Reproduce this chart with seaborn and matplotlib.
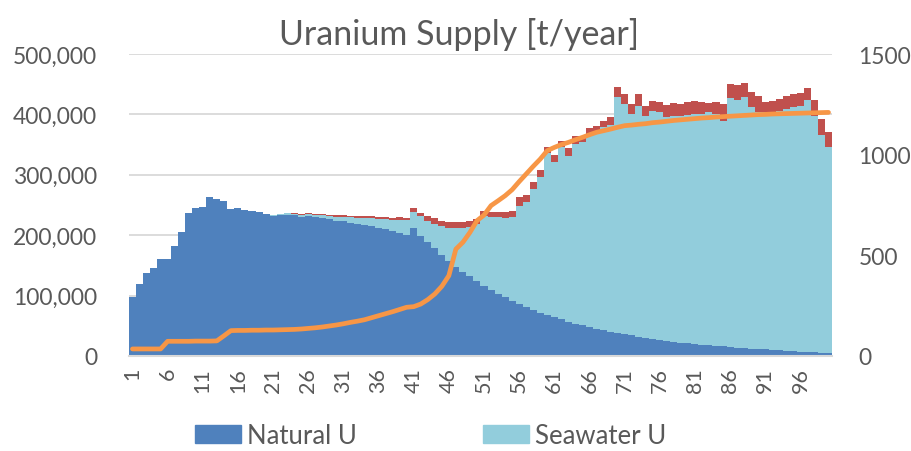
import numpy as np
import pandas as pd
import matplotlib.pyplot as plt
import seaborn as sns
from matplotlib.patches import Patch
from matplotlib.ticker import FuncFormatter

# values
years = list(range(1, 101))

natural_u = [
    97000, 118500, 138000, 145000, 160000, 161000, 181500, 205000, 237000, 245000,
    246000, 264000, 260000, 256500, 243000, 245000, 242500, 240000, 238000, 235000,
    232500, 233500, 234000, 233000, 230500, 232000, 230000, 228000, 226500, 224000,
    223000, 221000, 219000, 217000, 215000, 212500, 210000, 207000, 203000, 200000,
    212000, 199000, 189000, 178000, 167000, 158000, 148000, 139500, 132000, 124000,
    116000, 110000, 103000, 97000, 91000, 86000, 81000, 76500, 72000, 67500,
    64000, 60500, 57000, 53500, 50500, 47500, 45000, 42500, 40000, 38000,
    36000, 34000, 32000, 30000, 28000, 26000, 24500, 23000, 22000, 21000,
    20000, 19000, 18000, 17000, 16000, 15000, 14000, 13000, 12200, 11500,
    10800, 10000, 9300, 8600, 8000, 7400, 6800, 6200, 5600, 5000,
]

seawater_u = [
    0, 0, 0, 0, 0, 0, 0, 0, 0, 0,
    0, 0, 0, 0, 0, 0, 0, 0, 0, 500,
    1000, 1500, 2000, 2500, 3000, 3000, 3800, 5200, 5500, 6800,
    7600, 8900, 10200, 11500, 12800, 14600, 16400, 18200, 22500, 24600,
    27000, 32000, 35000, 40500, 48700, 54000, 63400, 72500, 82000, 94500,
    116300, 119600, 126600, 131000, 139700, 162900, 173400, 200500, 223800, 268500,
    256600, 285000, 273600, 297500, 303300, 320000, 327000, 336100, 343000, 390300,
    381200, 366700, 382400, 367800, 378100, 377500, 371700, 374900, 375900, 378500,
    380700, 381700, 385500, 383700, 373600, 411600, 410400, 416300, 400500, 392000,
    392700, 394500, 396800, 400300, 403700, 407000, 417600, 391700, 360300, 340500,
]

# third stacked series (red), not shown in the legend
other_u = [
    0, 0, 0, 0, 0, 0, 0, 0, 0, 0,
    0, 0, 0, 0, 0, 0, 0, 0, 0, 300,
    500, 800, 1000, 1200, 1500, 1500, 1700, 1800, 2000, 2200,
    2400, 2600, 2800, 3000, 3200, 3400, 3600, 3800, 4000, 4400,
    5500, 5700, 8000, 9500, 8300, 10400, 9900, 9300, 9000, 8300,
    8300, 8300, 8300, 9900, 9900, 13800, 11600, 11600, 11700, 9500,
    12200, 9900, 13200, 12700, 10900, 9500, 9300, 11000, 13200, 16500,
    16600, 16500, 19400, 16600, 16600, 16500, 19400, 21000, 19300, 20500,
    21000, 19300, 14900, 20400, 27600, 23700, 24300, 22700, 23900, 26500,
    17600, 17700, 19400, 21100, 22100, 20500, 19300, 26500, 26500, 25900,
]

# orange line, right axis
line_vals = [
    35, 35, 35, 35, 35, 73, 73, 73, 73, 74,
    74, 74, 75, 100, 126, 127, 127, 128, 128, 129,
    129, 130, 131, 132, 134, 137, 140, 144, 149, 154,
    160, 167, 173, 180, 190, 200, 210, 220, 231, 242,
    245, 258, 280, 308, 346, 399, 531, 565, 614, 672,
    700, 747, 771, 796, 826, 866, 904, 942, 978, 1020,
    1036, 1050, 1061, 1074, 1086, 1099, 1111, 1119, 1127, 1136,
    1144, 1147, 1151, 1154, 1159, 1162, 1166, 1170, 1173, 1176,
    1179, 1182, 1184, 1187, 1189, 1191, 1193, 1195, 1197, 1199,
    1200, 1202, 1203, 1204, 1205, 1206, 1207, 1208, 1209, 1210,
]

tick_labels = [str(y) for y in years[::5]]

sns.set_theme(style="white")
plt.rcParams["font.family"] = ["Lato", "DejaVu Sans"]
text_color = "#595959"

df = pd.DataFrame({"year": years, "natural": natural_u,
                   "seawater": seawater_u, "other": other_u})
df["sw_top"] = df["natural"] + df["seawater"]
df["total"] = df["sw_top"] + df["other"]

fig = plt.figure(figsize=(9.12, 4.52), dpi=100)
ax = fig.add_axes([0.1414, 0.2102, 0.7709, 0.6681])

# stacked bars drawn as overlapping cumulative bars
sns.barplot(data=df, x="year", y="total", color="#C0504D", width=1.0,
            saturation=1, linewidth=0, errorbar=None, ax=ax)
sns.barplot(data=df, x="year", y="sw_top", color="#92CDDC", width=1.0,
            saturation=1, linewidth=0, errorbar=None, ax=ax)
sns.barplot(data=df, x="year", y="natural", color="#4F81BD", width=1.0,
            saturation=1, linewidth=0, errorbar=None, ax=ax)

ax.set_xlim(-0.5, 99.5)
ax.set_ylim(0, 500000)
ax.set_yticks(range(0, 500001, 100000))
ax.yaxis.set_major_formatter(FuncFormatter(lambda v, p: f"{int(v):,}"))
ax.set_xticks(range(0, 100, 5))
ax.set_xticklabels(tick_labels, rotation=90)
ax.set_xlabel("")
ax.set_ylabel("")
ax.yaxis.grid(True, color="#D9D9D9", linewidth=1.3)
ax.set_axisbelow(True)
ax.tick_params(axis="y", length=0, pad=23, labelsize=16.5, labelcolor=text_color)
ax.tick_params(axis="x", length=0, pad=8, labelsize=15.5, labelcolor=text_color)
for s in ["top", "left", "right"]:
    ax.spines[s].set_visible(False)
ax.spines["bottom"].set_color("#D9D9D9")
ax.spines["bottom"].set_linewidth(1.5)

ax2 = ax.twinx()
sns.lineplot(x=df.index, y=line_vals, color="#F79646", linewidth=3.4,
             solid_capstyle="round", ax=ax2)
ax2.set_ylim(0, 1500)
ax2.set_yticks([0, 500, 1000, 1500])
ax2.tick_params(axis="y", length=0, pad=19, labelsize=16.5, labelcolor=text_color)
for s in ax2.spines.values():
    s.set_visible(False)

ax.set_title("Uranium Supply [t/year]", fontsize=24.5, color=text_color,
             pad=7, x=0.469)

handles = [Patch(color="#4F81BD", label="Natural U"),
           Patch(color="#92CDDC", label="Seawater U")]
fig.legend(handles=handles, loc="center", bbox_to_anchor=(0.472, 0.035),
           ncol=2, frameon=False, fontsize=18.5, labelcolor=text_color,
           handlelength=1.8, handleheight=0.7, handletextpad=0.22,
           columnspacing=4.9)

fig.savefig("out.png", dpi=100)
